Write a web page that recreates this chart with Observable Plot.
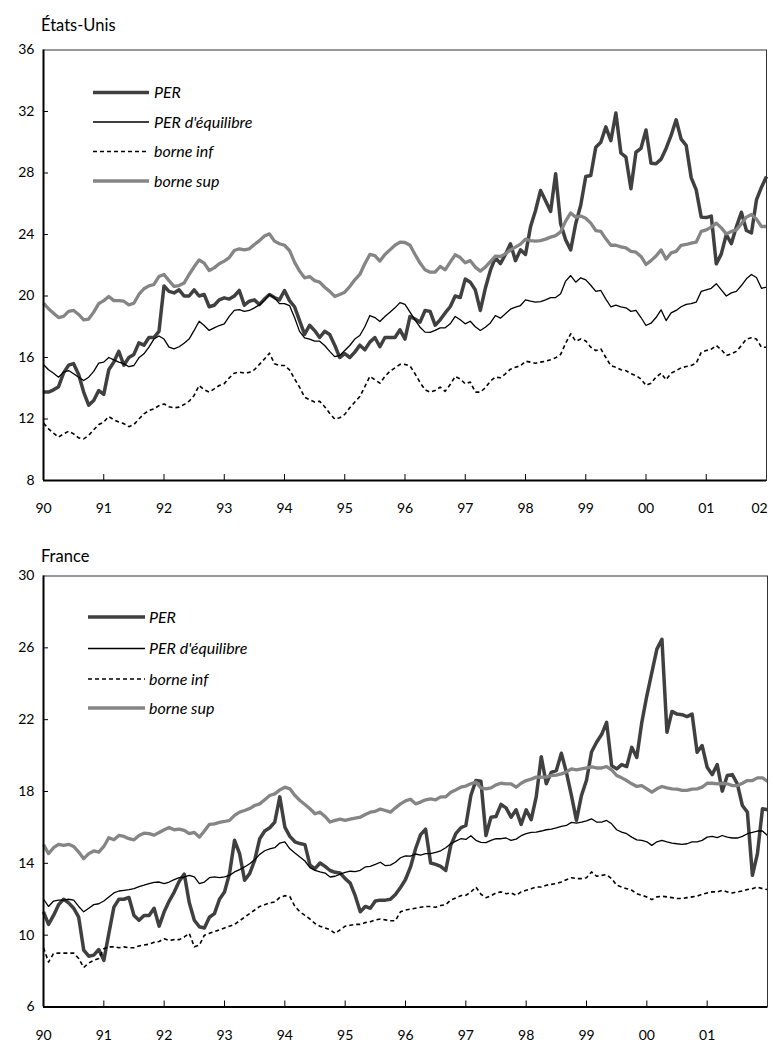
<!DOCTYPE html>
<html><head><meta charset="utf-8">
<script src="https://cdn.jsdelivr.net/npm/d3@7"></script>
<script src="https://cdn.jsdelivr.net/npm/@observablehq/plot@0.6"></script>
<style>
body{margin:0;background:#fff;font-family:Lato,"DejaVu Sans",sans-serif;}
#root{position:relative;width:773px;height:1043px;overflow:hidden;background:#fff}
.title{position:absolute;font-size:16.5px;color:#000;line-height:18px;white-space:nowrap}
.chart{position:absolute;left:0}
svg.leg{position:absolute;left:0;top:0;overflow:visible}
</style></head><body><div id="root"></div>
<script>
// ---- États-Unis (monthly, Jan 1990 - Jan 2002) ----
const usPER = [13.75,13.75,13.9,14.1,15.0,15.5,15.6,14.9,13.75,12.9,13.2,13.85,
13.6,15.2,15.7,16.4,15.5,16.0,16.2,16.95,16.8,17.3,17.3,17.7,
20.65,20.3,20.2,20.4,20.0,20.0,20.4,20.0,20.1,19.3,19.4,19.75,
19.88,19.8,20.0,20.36,19.4,19.66,19.75,19.45,19.8,20.1,19.9,19.75,
20.36,19.7,19.3,18.4,17.5,18.1,17.75,17.3,17.7,17.5,16.8,16.0,
16.25,16.0,16.35,16.8,16.5,17.0,17.3,16.7,17.3,17.3,17.3,17.8,
17.2,18.67,18.5,18.3,19.06,19.0,18.1,18.45,18.9,19.3,20.0,19.9,
21.1,20.9,20.4,19.06,20.5,21.66,22.5,22.1,22.7,23.4,22.3,23.0,
22.7,24.5,25.56,26.86,26.2,25.5,27.95,24.7,23.65,23.0,24.7,25.9,
27.77,27.84,29.68,30.0,31.0,30.1,31.9,29.3,29.03,26.97,29.35,29.6,
30.8,28.64,28.6,28.9,29.6,30.44,31.46,30.2,29.8,27.7,26.9,25.13,
25.1,25.2,22.09,22.74,24.0,23.4,24.5,25.45,24.26,24.1,26.25,27.08,27.77];
const usEq = [15.54,15.2,14.98,14.72,15.05,15.15,14.94,14.72,14.5,14.72,15.1,15.63,
15.7,16.0,15.85,15.7,15.6,15.4,15.48,15.98,16.24,16.67,17.2,17.4,
17.2,16.67,16.56,16.7,16.93,17.2,17.76,18.36,18.08,17.76,17.93,18.08,
18.19,18.67,19.06,19.12,19.0,19.06,19.23,19.42,19.7,20.1,19.88,19.5,
19.5,19.38,18.6,17.7,17.28,17.2,17.06,17.06,16.78,16.4,16.06,16.13,
16.45,16.78,17.2,17.43,18.0,18.73,18.6,18.34,18.67,18.95,19.23,19.57,
19.45,18.95,18.45,17.97,17.65,17.63,17.76,17.93,17.93,18.19,18.67,18.45,
18.19,18.36,18.0,17.76,17.97,18.25,18.73,18.56,18.84,19.14,19.27,19.38,
19.75,19.66,19.6,19.64,19.75,19.9,19.9,20.14,20.97,21.33,20.9,21.18,
21.05,20.7,20.3,20.36,19.8,19.3,19.4,19.3,19.23,19.0,19.06,18.6,
18.08,18.23,18.6,19.1,18.4,18.9,19.06,19.3,19.45,19.5,19.6,20.3,
20.4,20.5,20.8,20.4,20.0,20.2,20.3,20.68,21.12,21.4,21.2,20.5,20.57];
const usInf = [11.73,11.36,11.08,10.82,11.03,11.2,11.03,10.77,10.71,10.93,11.3,11.64,
11.8,12.16,11.95,11.8,11.7,11.5,11.64,12.0,12.33,12.55,12.66,12.87,
12.98,12.8,12.73,12.77,12.94,13.16,13.53,14.18,13.9,13.75,13.96,14.18,
14.3,14.68,14.98,15.05,14.98,15.03,15.2,15.55,15.9,16.28,15.6,15.48,
15.48,15.2,14.61,14.07,13.42,13.25,13.1,13.16,12.8,12.38,12.0,12.08,
12.3,12.73,13.1,13.46,14.1,14.77,14.55,14.33,14.77,15.1,15.33,15.55,
15.55,15.45,14.94,14.37,13.9,13.75,13.85,14.07,13.8,14.24,14.77,14.6,
14.29,14.4,13.75,13.75,14.03,14.46,14.72,14.68,14.94,15.24,15.37,15.46,
15.76,15.7,15.63,15.7,15.76,15.85,15.98,16.2,16.93,17.54,17.06,17.2,
17.08,16.67,16.45,16.56,16.0,15.46,15.37,15.2,15.15,14.94,14.83,14.6,
14.18,14.33,14.72,14.98,14.55,14.98,15.15,15.33,15.41,15.48,15.63,16.33,
16.45,16.54,16.78,16.5,16.13,16.24,16.4,16.78,17.2,17.28,17.2,16.67,16.67];
const usSup = [19.53,19.17,18.88,18.6,18.67,19.0,19.06,18.8,18.45,18.5,18.95,19.5,
19.7,19.97,19.7,19.7,19.66,19.42,19.53,20.1,20.47,20.66,20.75,21.27,
21.4,21.0,20.62,20.68,20.84,21.4,21.9,22.35,22.14,21.66,21.83,22.1,
22.27,22.5,22.96,23.07,23.0,23.07,23.35,23.6,23.9,24.04,23.57,23.4,
23.3,22.96,22.2,21.62,21.18,21.27,21.0,20.9,20.57,20.3,19.97,20.1,
20.25,20.62,21.05,21.4,22.1,22.7,22.63,22.27,22.7,23.0,23.3,23.5,
23.48,23.3,22.7,22.14,21.7,21.55,21.55,21.92,21.7,22.2,22.68,22.5,
22.16,22.3,21.88,21.62,21.88,22.24,22.6,22.57,22.74,23.0,23.18,23.37,
23.7,23.6,23.57,23.6,23.7,23.83,23.93,24.17,24.87,25.4,25.13,25.2,
25.06,24.74,24.26,24.2,23.72,23.3,23.3,23.2,23.13,22.9,22.85,22.57,
22.05,22.3,22.6,23.0,22.4,22.8,22.9,23.3,23.35,23.44,23.5,24.2,
24.3,24.48,24.74,24.43,24.04,24.2,24.3,24.7,25.13,25.3,25.0,24.52,24.52];

// ---- France (monthly, Jan 1990 - Jan 2002) ----
const frPER = [11.3,10.6,11.1,11.7,12.0,11.8,11.5,11.0,9.17,8.83,8.89,9.2,
8.6,10.1,11.56,12.0,12.0,12.1,11.1,10.83,11.1,11.1,11.5,10.5,
11.3,11.9,12.4,13.0,13.4,11.8,10.83,10.47,10.4,11.0,11.2,12.0,
12.4,13.43,15.28,14.54,13.06,13.43,14.17,15.37,15.8,15.98,16.3,17.7,
16.02,15.5,15.2,15.1,15.04,13.9,13.7,14.02,13.83,13.6,13.5,13.46,
13.15,12.9,12.2,11.3,11.6,11.5,11.9,11.95,11.95,12.0,12.26,12.65,
13.1,13.8,14.81,15.6,15.9,14.02,13.94,13.83,13.6,15.0,15.65,15.98,
16.11,17.78,18.61,18.57,15.55,16.57,16.61,17.28,17.09,16.57,16.98,16.17,
16.98,16.43,17.7,19.94,18.43,19.07,19.17,20.13,19.07,17.78,16.39,17.78,
18.63,20.2,20.74,21.17,21.85,19.44,19.26,19.5,19.39,20.46,19.9,21.85,
23.33,24.63,25.93,26.48,21.3,22.46,22.31,22.28,22.17,22.31,20.19,20.56,
19.35,18.94,19.5,18.02,18.89,18.94,18.43,17.22,16.85,13.33,14.54,17.04,16.98];
const frEq = [12.0,11.6,11.9,11.95,11.95,12.0,11.95,11.6,11.3,11.5,11.7,11.75,
11.9,12.13,12.35,12.46,12.5,12.54,12.59,12.7,12.78,12.87,12.94,12.96,
12.87,12.96,13.09,13.2,13.24,13.33,13.24,12.87,12.96,13.2,13.25,13.2,
13.25,13.33,13.52,13.65,13.8,13.98,14.2,14.5,14.7,14.8,14.87,15.13,
15.2,14.81,14.57,14.35,14.13,13.76,13.61,13.52,13.46,13.24,13.28,13.4,
13.5,13.56,13.54,13.61,13.8,13.83,13.94,14.06,13.87,13.9,14.06,14.31,
14.42,14.4,14.52,14.46,14.54,14.54,14.61,14.7,14.87,15.09,15.24,15.37,
15.33,15.54,15.28,15.17,15.15,15.28,15.37,15.37,15.41,15.28,15.35,15.54,
15.65,15.72,15.74,15.8,15.87,15.91,15.98,16.06,16.11,16.28,16.24,16.3,
16.37,16.48,16.3,16.3,16.39,16.2,15.87,15.74,15.65,15.46,15.31,15.28,
15.2,15.0,15.2,15.28,15.2,15.13,15.09,15.06,15.09,15.2,15.2,15.28,
15.46,15.5,15.43,15.55,15.46,15.41,15.41,15.5,15.65,15.72,15.8,15.8,15.55];
const frInf = [9.3,8.5,8.98,9.0,9.0,9.0,9.0,8.7,8.2,8.45,8.6,8.7,
9.25,9.35,9.35,9.3,9.35,9.3,9.3,9.4,9.45,9.5,9.6,9.65,
9.8,9.7,9.75,9.75,9.9,10.1,9.35,9.45,10.0,10.1,10.2,10.3,
10.4,10.5,10.6,10.8,11.0,11.2,11.4,11.6,11.7,11.8,11.85,12.1,
12.2,12.15,11.6,11.3,11.1,10.9,10.65,10.5,10.4,10.3,10.1,10.3,
10.5,10.55,10.6,10.6,10.7,10.75,10.85,10.9,10.85,10.8,10.8,11.3,
11.4,11.45,11.5,11.55,11.6,11.6,11.55,11.65,11.7,11.95,12.07,12.2,
12.22,12.4,12.68,12.28,12.09,12.19,12.35,12.41,12.31,12.35,12.22,12.41,
12.5,12.59,12.68,12.68,12.78,12.83,12.87,12.96,13.09,13.2,13.15,13.15,
13.2,13.52,13.28,13.33,13.37,13.15,12.78,12.68,12.59,12.5,12.31,12.22,
12.13,11.98,12.13,12.17,12.13,12.09,12.04,12.04,12.09,12.13,12.17,12.28,
12.35,12.41,12.41,12.5,12.41,12.35,12.41,12.46,12.54,12.59,12.68,12.59,12.54];
const frSup = [15.05,14.54,14.87,15.06,15.0,15.06,14.94,14.63,14.26,14.54,14.69,14.63,
14.94,15.43,15.31,15.55,15.5,15.37,15.31,15.55,15.68,15.65,15.57,15.72,
15.87,16.0,15.87,15.9,15.83,15.65,15.72,15.46,15.8,16.17,16.2,16.28,
16.33,16.39,16.67,16.85,16.94,17.05,17.22,17.31,17.54,17.78,17.87,18.09,
18.24,18.15,17.78,17.5,17.28,17.04,16.76,16.85,16.61,16.3,16.39,16.46,
16.39,16.46,16.52,16.57,16.72,16.85,16.9,17.02,16.94,16.85,17.09,17.31,
17.48,17.57,17.31,17.41,17.54,17.59,17.54,17.7,17.7,17.96,18.09,18.24,
18.3,18.43,18.52,18.2,18.15,18.2,18.37,18.46,18.43,18.43,18.24,18.46,
18.61,18.69,18.8,18.8,18.8,18.89,18.91,18.98,19.09,19.26,19.2,19.26,
19.31,19.37,19.31,19.31,19.39,19.2,18.89,18.76,18.61,18.43,18.28,18.33,
18.15,17.96,18.15,18.28,18.2,18.15,18.13,18.06,18.06,18.13,18.15,18.24,
18.46,18.46,18.43,18.46,18.43,18.33,18.33,18.46,18.61,18.61,18.76,18.76,18.57];

const seriesNames = ["PER", "PER d'équilibre", "borne inf", "borne sup"];
const usTicks = [8,12,16,20,24,28,32,36];
const frTicks = [6,10,14,18,22,26,30];
const usYearLabels = d3.range(1990, 2002);
const usLastLabel = [2002];
const frYearLabels = d3.range(1990, 2002);

const styles = {
  "PER": {stroke: "#404040", strokeWidth: 3.5},
  "PER d'équilibre": {stroke: "#000", strokeWidth: 1.3},
  "borne inf": {stroke: "#000", strokeWidth: 1.6, strokeDasharray: "4,3"},
  "borne sup": {stroke: "#858585", strokeWidth: 3.3}
};
const fontFam = 'Lato, "DejaVu Sans", sans-serif';
const yy = d => String(d % 100).padStart(2, "0");

function panel({vals, yDomain, yTicks, yearLabels, lastLabel, height, mTop, mBottom, mRight}) {
  const W = 773, mLeft = 43;
  const plotH = height - mTop - mBottom, plotW = W - mLeft - mRight;
  const lineMarks = [0,1,2,3].map(k => {
    const data = vals[k].map((v, i) => ({t: 1990 + i / 12, v}));
    return Plot.line(data, {x: "t", y: "v", ...styles[seriesNames[k]], strokeLinejoin: "round", strokeLinecap: "butt"});
  });
  const axisOpts = {tickSize: 0, tickPadding: 23, tickFormat: yy, fontSize: 14, fill: "#000", label: null};
  return Plot.plot({
    width: W, height, marginTop: mTop, marginBottom: mBottom, marginLeft: mLeft, marginRight: mRight,
    x: {type: "linear", domain: [1990, 2002], label: null},
    y: {type: "linear", domain: yDomain, label: null},
    style: {fontFamily: fontFam, fontSize: "14px", color: "#000", background: "transparent", overflow: "visible"},
    marks: [
      Plot.axisX({ticks: yearLabels, ...axisOpts}),
      ...(lastLabel ? [Plot.axisX({ticks: lastLabel, ...axisOpts, dx: -7})] : []),
      Plot.axisY({ticks: yTicks, tickSize: 0, tickPadding: 9, fontSize: 14, fill: "#000", label: null}),
      Plot.ruleX(d3.range(1991, 2003), {x: d => d, insetTop: plotH - 6, stroke: "#000", strokeWidth: 1}),
      Plot.ruleY(yTicks.slice(1, -1), {y: d => d, insetRight: plotW - 5, stroke: "#000", strokeWidth: 1}),
      ...lineMarks,
      Plot.frame({stroke: "#333", strokeWidth: 1}),
      Plot.ruleX([1990], {x: d => d, stroke: "#000", strokeWidth: 2}),
      Plot.ruleY([yDomain[0]], {y: d => d, stroke: "#000", strokeWidth: 2})
    ]
  });
}

const root = document.getElementById("root");
function addTitle(text, left, top) {
  const d = document.createElement("div");
  d.className = "title"; d.textContent = text;
  d.style.left = left + "px"; d.style.top = top + "px";
  root.appendChild(d);
}
function addChart(svg, top) {
  const wrap = document.createElement("div");
  wrap.className = "chart"; wrap.style.top = top + "px";
  wrap.appendChild(svg); root.appendChild(wrap);
}
function addLegend(x0, x1, tx, ys) {
  const ns = "http://www.w3.org/2000/svg";
  const svg = document.createElementNS(ns, "svg");
  svg.setAttribute("class", "leg"); svg.setAttribute("width", 773); svg.setAttribute("height", 1043);
  seriesNames.forEach((name, k) => {
    const st = styles[name];
    const ln = document.createElementNS(ns, "line");
    ln.setAttribute("x1", x0); ln.setAttribute("x2", x1);
    ln.setAttribute("y1", ys[k]); ln.setAttribute("y2", ys[k]);
    ln.setAttribute("stroke", st.stroke); ln.setAttribute("stroke-width", st.strokeWidth);
    if (st.strokeDasharray) ln.setAttribute("stroke-dasharray", st.strokeDasharray);
    svg.appendChild(ln);
    const tt = document.createElementNS(ns, "text");
    tt.setAttribute("x", tx); tt.setAttribute("y", ys[k]); tt.setAttribute("dy", "0.35em");
    tt.setAttribute("font-style", "italic"); tt.setAttribute("font-size", 16);
    tt.setAttribute("font-family", fontFam);
    tt.textContent = name;
    svg.appendChild(tt);
  });
  root.appendChild(svg);
}

addTitle("États-Unis", 41, 16);
addChart(panel({vals: [usPER, usEq, usInf, usSup], yDomain: [8, 36], yTicks: usTicks, yearLabels: usYearLabels, lastLabel: usLastLabel,
  height: 525, mTop: 49.5, mBottom: 45, mRight: 7}), 0);
addLegend(93, 149, 154, [92.5, 122, 151.5, 181]);

addTitle("France", 41, 547);
addChart(panel({vals: [frPER, frEq, frInf, frSup], yDomain: [6, 30], yTicks: frTicks, yearLabels: frYearLabels,
  height: 503, mTop: 35.5, mBottom: 36.5, mRight: 6}), 540);
addLegend(88, 145, 149, [617, 648.5, 679, 708]);
</script></body></html>
